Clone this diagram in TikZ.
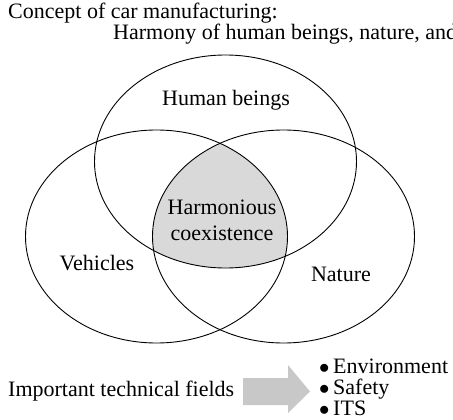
\documentclass[tikz,border=0pt]{standalone}
\usepackage{fontspec}
\setmainfont{Liberation Serif}
\usepackage{tikz}
\usepackage{xcolor}
\usetikzlibrary{positioning}
\definecolor{cShade}{RGB}{217,217,217}
\definecolor{cArrow}{RGB}{200,200,200}
\newcommand{\itembul}{$\bullet$\,}
\tikzset{
	lbl/.style={inner sep=0pt, align=center, font=\fontsize{22}{26}\selectfont},
	venn/.style={draw=black, line width=0.9pt},
	% radii of the three sets
	vennsize/.style={x radius=131pt, y radius=106.5pt},
}

\begin{document}
\begin{tikzpicture}[x=1pt, y=-1pt]
	\useasboundingbox (0,0) rectangle (453,420);
	\clip (0,0) rectangle (453,420);
	\coordinate (cHum) at (225.5,161.5);
	\coordinate (cVeh) at (156.5,236.5);
	\coordinate (cNat) at (283.5,236.5);
	% shaded common part
	\begin{scope}
		\clip (cHum) ellipse [vennsize];
		\clip (cVeh) ellipse [vennsize];
		\fill[cShade] (cNat) ellipse [vennsize];
	\end{scope}
	\foreach \c in {cHum, cVeh, cNat} {
		\draw[venn] (\c) ellipse [vennsize];
	}
	\node[lbl, anchor=west] (concept) at (8,13) {Concept of car manufacturing:};
	\node[lbl, anchor=west] (harmony) at (113,34) {Harmony of human beings, nature, and};
	\node[lbl] (human) at (226,100) {Human beings};
	\node[lbl] (coexist) at (222,220) {Harmonious\\coexistence};
	\node[lbl] (vehicles) at (97,263) {Vehicles};
	\node[lbl] (nature) at (341,274) {Nature};
	\node[lbl, anchor=west] (fields) at (8,391) {Important technical fields};
	\node[lbl, anchor=west, align=left, font=\fontsize{22}{21}\selectfont] (fieldlist) at (319,387) {\itembul Environment\\\itembul Safety\\\itembul ITS};
	% block arrow
	\coordinate (arrTail) at (243,391.5);
	\fill[cArrow] (arrTail) ++(0,-13.5) -- ++(45,0) -- ++(0,-13) -- ++(22,26.5) -- ++(-22,21.5) -- ++(0,-8) -- ++(-45,0) -- cycle;
\end{tikzpicture}
\end{document}
